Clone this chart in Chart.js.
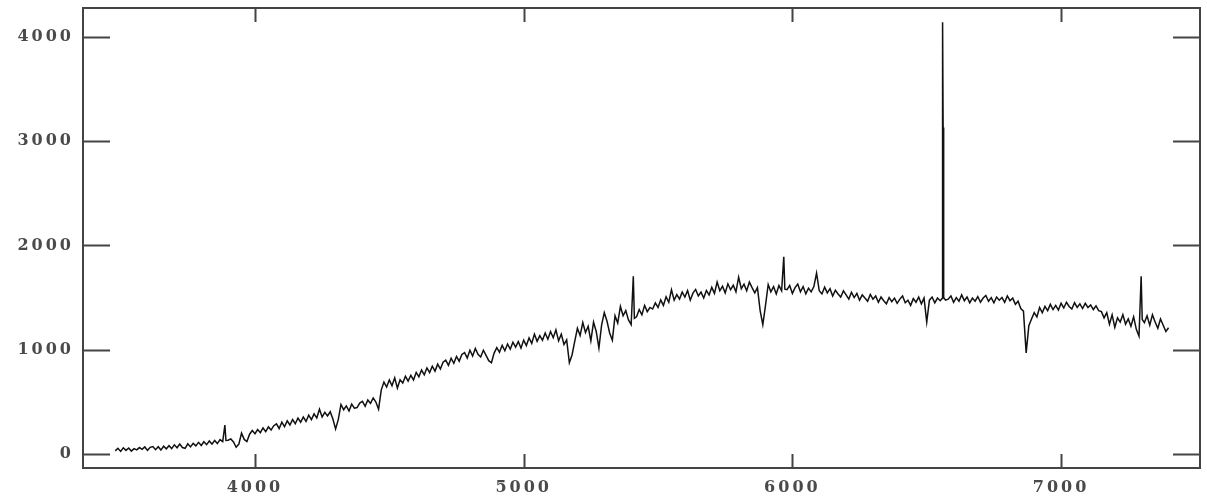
<!DOCTYPE html>
<html>
<head>
<meta charset="utf-8">
<script src="https://cdn.jsdelivr.net/npm/chart.js@4/dist/chart.umd.min.js"></script>
<style>
  html, body { margin: 0; padding: 0; background: #fff; }
  #box { width: 1207px; height: 501px; }
</style>
</head>
<body>
<div id="box"><canvas id="espectro"></canvas></div>
<script>
// comprimento de onda (Angstrom), amostrado a cada 10 (mais fino nas linhas de emissao)
const comprimentoOnda = [
  3480, 3490, 3500, 3510, 3520, 3530, 3540, 3550, 3560, 3570,
  3580, 3590, 3600, 3610, 3620, 3630, 3640, 3650, 3660, 3670,
  3680, 3690, 3700, 3710, 3720, 3730, 3740, 3750, 3760, 3770,
  3780, 3790, 3800, 3810, 3820, 3830, 3840, 3850, 3860, 3870,
  3880, 3888, 3892, 3900, 3910, 3920, 3930, 3940, 3950, 3960, 3970,
  3980, 3990, 4000, 4010, 4020, 4030, 4040, 4050, 4060, 4070,
  4080, 4090, 4100, 4110, 4120, 4130, 4140, 4150, 4160, 4170,
  4180, 4190, 4200, 4210, 4220, 4230, 4240, 4250, 4260, 4270,
  4280, 4290, 4300, 4310, 4320, 4330, 4340, 4350, 4360, 4370,
  4380, 4390, 4400, 4410, 4420, 4430, 4440, 4450, 4460, 4470,
  4480, 4490, 4500, 4510, 4520, 4530, 4540, 4550, 4560, 4570,
  4580, 4590, 4600, 4610, 4620, 4630, 4640, 4650, 4660, 4670,
  4680, 4690, 4700, 4710, 4720, 4730, 4740, 4750, 4760, 4770,
  4780, 4790, 4800, 4810, 4820, 4830, 4840, 4850, 4860, 4870,
  4880, 4890, 4900, 4910, 4920, 4930, 4940, 4950, 4960, 4970,
  4980, 4990, 5000, 5010, 5020, 5030, 5040, 5050, 5060, 5070,
  5080, 5090, 5100, 5110, 5120, 5130, 5140, 5150, 5160, 5170,
  5180, 5190, 5200, 5210, 5220, 5230, 5240, 5250, 5260, 5270,
  5280, 5290, 5300, 5310, 5320, 5330, 5340, 5350, 5360, 5370,
  5380, 5390, 5400, 5408, 5412, 5420, 5430, 5440, 5450, 5460, 5470,
  5480, 5490, 5500, 5510, 5520, 5530, 5540, 5550, 5560, 5570,
  5580, 5590, 5600, 5610, 5620, 5630, 5640, 5650, 5660, 5670,
  5680, 5690, 5700, 5710, 5720, 5730, 5740, 5750, 5760, 5770,
  5780, 5790, 5800, 5810, 5820, 5830, 5840, 5850, 5860, 5870,
  5880, 5890, 5900, 5910, 5920, 5930, 5940, 5950, 5960, 5968, 5972,
  5980, 5990, 6000, 6010, 6020, 6030, 6040, 6050, 6060, 6070,
  6080, 6090, 6100, 6110, 6120, 6130, 6140, 6150, 6160, 6170,
  6180, 6190, 6200, 6210, 6220, 6230, 6240, 6250, 6260, 6270,
  6280, 6290, 6300, 6310, 6320, 6330, 6340, 6350, 6360, 6370,
  6380, 6390, 6400, 6410, 6420, 6430, 6440, 6450, 6460, 6470,
  6480, 6490, 6500, 6510, 6520, 6530, 6540, 6550, 6557, 6559, 6561, 6563, 6570,
  6580, 6590, 6600, 6610, 6620, 6630, 6640, 6650, 6660, 6670,
  6680, 6690, 6700, 6710, 6720, 6730, 6740, 6750, 6760, 6770,
  6780, 6790, 6800, 6810, 6820, 6830, 6840, 6850, 6860, 6870,
  6880, 6890, 6900, 6910, 6920, 6930, 6940, 6950, 6960, 6970,
  6980, 6990, 7000, 7010, 7020, 7030, 7040, 7050, 7060, 7070,
  7080, 7090, 7100, 7110, 7120, 7130, 7140, 7150, 7160, 7170,
  7180, 7190, 7200, 7210, 7220, 7230, 7240, 7250, 7260, 7270,
  7280, 7290, 7298, 7302, 7310, 7320, 7330, 7340, 7350, 7360, 7370,
  7380, 7390, 7400
];

// fluxo
const fluxo = [
  30, 55, 25, 60, 35, 58, 28, 52, 40, 62,
  45, 68, 35, 64, 72, 42, 70, 38, 75, 50,
  80, 52, 88, 60, 95, 62, 55, 98, 68, 102,
  78, 112, 82, 118, 90, 125, 95, 130, 100, 138,
  118, 278, 130, 132, 145, 115, 65, 95, 200, 140, 120,
  190, 225, 195, 235, 205, 250, 215, 260, 230, 272,
  290, 245, 305, 262, 318, 278, 330, 290, 345, 305,
  355, 312, 372, 330, 385, 345, 430, 355, 400, 365,
  405, 335, 240, 330, 475, 425, 462, 412, 478, 440,
  445, 488, 505, 458, 518, 485, 538, 498, 430, 615,
  690, 642, 710, 655, 730, 632, 712, 680, 745, 700,
  755, 710, 782, 740, 805, 760, 825, 780, 842, 795,
  862, 815, 880, 900, 850, 918, 870, 935, 890, 955,
  972, 920, 995, 940, 1012, 955, 930, 995, 945, 895,
  875, 968, 1020, 975, 1042, 990, 1055, 1005, 1072, 1025,
  1078, 1015, 1092, 1040, 1112, 1060, 1150, 1080, 1135, 1090,
  1160, 1100, 1175, 1115, 1190, 1085, 1150, 1050, 1095, 875,
  950, 1080, 1205, 1135, 1260, 1165, 1225, 1085, 1265, 1175,
  1015, 1235, 1355, 1275, 1160, 1090, 1325, 1255, 1415, 1325,
  1375, 1285, 1240, 1705, 1300, 1315, 1385, 1335, 1425, 1365, 1405,
  1390, 1448, 1405, 1478, 1425, 1508, 1455, 1575, 1475, 1528,
  1485, 1552, 1505, 1568, 1475, 1542, 1578, 1515, 1552, 1495,
  1568, 1525, 1598, 1540, 1648, 1565, 1608, 1545, 1632, 1575,
  1618, 1555, 1695, 1585, 1628, 1565, 1648, 1595, 1545, 1595,
  1375, 1240, 1425, 1625, 1555, 1605, 1535, 1615, 1565, 1890, 1580,
  1575, 1615, 1540, 1595, 1630, 1555, 1605, 1535, 1590, 1555,
  1605, 1735, 1565, 1535, 1600, 1545, 1585, 1515, 1570, 1535,
  1505, 1565, 1525, 1485, 1550, 1500, 1540, 1475, 1525, 1495,
  1465, 1530, 1485, 1515, 1455, 1505, 1470, 1440, 1500, 1460,
  1495, 1445, 1485, 1515, 1450, 1475, 1425, 1490, 1455, 1505,
  1440, 1495, 1265, 1475, 1505, 1450, 1495, 1470, 1490, 4140, 3130, 1500, 1475,
  1485, 1515, 1455, 1500, 1465, 1525, 1470, 1505, 1450, 1495,
  1465, 1510, 1455, 1495, 1520, 1465, 1500, 1450, 1505, 1475,
  1500, 1455, 1515, 1470, 1495, 1435, 1465, 1395, 1370, 970,
  1230, 1295, 1355, 1315, 1405, 1355, 1415, 1375, 1435, 1385,
  1425, 1380, 1445, 1400, 1455, 1415, 1390, 1450, 1405, 1440,
  1395, 1445, 1405, 1430, 1385, 1420, 1375, 1365, 1305, 1355,
  1245, 1335, 1215, 1305, 1265, 1335, 1245, 1295, 1225, 1315,
  1195, 1130, 1705, 1290, 1260, 1325, 1235, 1335, 1265, 1205, 1295,
  1235, 1175, 1210
];

const ticksX = [4000, 5000, 6000, 7000];
const ticksY = [0, 1000, 2000, 3000, 4000];

const corEixo = '#444';

// moldura e marcas de escala para dentro, nos quatro lados
const molduraPlugin = {
  id: 'moldura',
  beforeDraw(chart) {
    chart.ctx.letterSpacing = '3px';
  },
  afterDraw(chart) {
    const { ctx, chartArea: a, scales } = chart;
    ctx.save();
    ctx.letterSpacing = '0px';
    ctx.strokeStyle = corEixo;
    ctx.lineWidth = 2;
    ctx.strokeRect(a.left, a.top, a.right - a.left, a.bottom - a.top);
    ctx.beginPath();
    ticksY.forEach(v => {
      const y = Math.round(scales.y.getPixelForValue(v)) + 0.5;
      ctx.moveTo(a.left, y); ctx.lineTo(a.left + 27, y);
      ctx.moveTo(a.right, y); ctx.lineTo(a.right - 27, y);
    });
    ticksX.forEach(v => {
      const x = Math.round(scales.x.getPixelForValue(v)) + 0.5;
      ctx.moveTo(x, a.bottom); ctx.lineTo(x, a.bottom - 14);
      ctx.moveTo(x, a.top); ctx.lineTo(x, a.top + 14);
    });
    ctx.stroke();
    ctx.restore();
  }
};

const fonteTicks = { family: 'DejaVu Serif', size: 16, weight: 'bold' };
const semSeparador = v => String(v);

new Chart(document.getElementById('espectro'), {
  type: 'line',
  data: {
    datasets: [{
      label: 'espectro',
      data: comprimentoOnda.map((w, i) => ({ x: w, y: fluxo[i] })),
      borderColor: '#111',
      borderWidth: 1.5,
      pointRadius: 0,
      tension: 0,
      fill: false,
    }],
  },
  options: {
    responsive: true,
    maintainAspectRatio: false,
    animation: false,
    events: [],
    layout: { padding: { left: 0, right: 7, top: 8, bottom: 0 } },
    plugins: {
      legend: { display: false },
      tooltip: { enabled: false },
    },
    scales: {
      x: {
        type: 'linear',
        min: 3360,
        max: 7517,
        grid: { display: false, drawTicks: false },
        border: { display: false },
        afterBuildTicks: s => { s.ticks = ticksX.map(v => ({ value: v })); },
        afterFit: s => { s.height = 33; s.paddingLeft = 0; s.paddingRight = 0; },
        ticks: { font: fonteTicks, color: '#4a4a4a', padding: 10, maxRotation: 0, callback: semSeparador },
      },
      y: {
        type: 'linear',
        min: -134,
        max: 4276,
        grid: { display: false, drawTicks: false },
        border: { display: false },
        afterBuildTicks: s => { s.ticks = ticksY.map(v => ({ value: v })); },
        afterFit: s => { s.width = 83; s.paddingTop = 0; s.paddingBottom = 0; },
        ticks: { font: fonteTicks, color: '#4a4a4a', padding: 9, callback: semSeparador },
      },
    },
  },
  plugins: [molduraPlugin],
});
</script>
</body>
</html>
